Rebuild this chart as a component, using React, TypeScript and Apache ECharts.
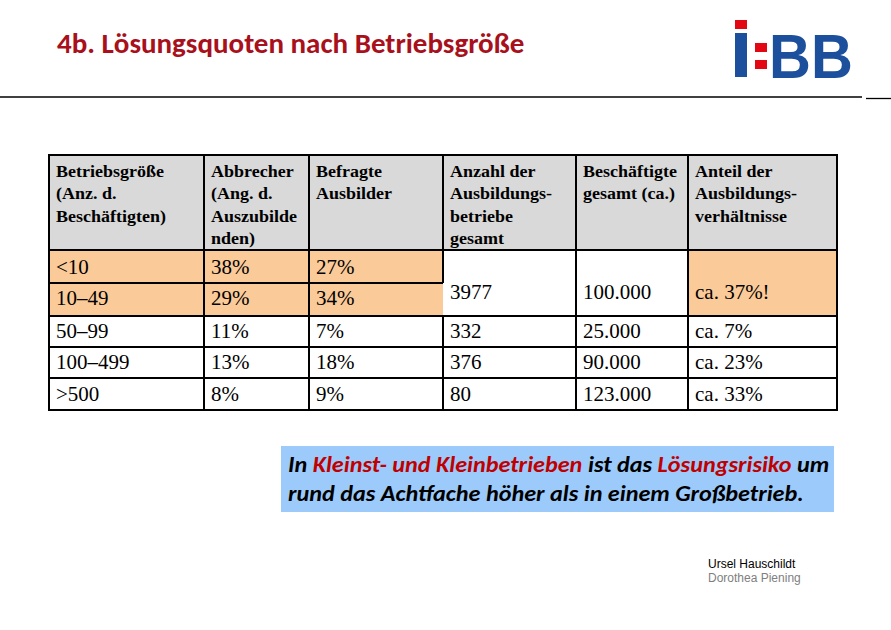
import React, { useEffect, useRef } from "react";
import * as echarts from "echarts";

const title = "4b. Lösungsquoten nach Betriebsgröße";
const headers = [
  "Betriebsgröße\n(Anz. d.\nBeschäftigten)",
  "Abbrecher\n(Ang. d.\nAuszubilde\nnden)",
  "Befragte\nAusbilder",
  "Anzahl der\nAusbildungs-\nbetriebe\ngesamt",
  "Beschäftigte\ngesamt (ca.)",
  "Anteil der\nAusbildungs-\nverhältnisse",
];
const sizes = ["<10", "10–49", "50–99", "100–499", ">500"];
const abbrecher = ["38%", "29%", "11%", "13%", "8%"];
const befragte = ["27%", "34%", "7%", "18%", "9%"];
// first entry covers the merged rows <10 and 10–49
const anzahl = ["3977", "332", "376", "80"];
const beschaeftigte = ["100.000", "25.000", "90.000", "123.000"];
const anteil = ["ca. 37%!", "ca. 7%", "ca. 23%", "ca. 33%"];
const noteParts: [string, boolean][] = [
  ["In ", false],
  ["Kleinst- und Kleinbetrieben", true],
  [" ist das ", false],
  ["Lösungsrisiko", true],
  [" um", false],
];
const noteLine2 = "rund das Achtfache höher als in einem Großbetrieb.";
const authors = ["Ursel Hauschildt", "Dorothea Piening"];

const colX = [49, 204, 309, 443, 576, 688, 837];
const rowY = [155, 250, 283, 316, 347, 378, 410];

export default function App() {
  const ref = useRef<HTMLDivElement>(null);
  useEffect(() => {
    if (!ref.current) return;
    const chart = echarts.init(ref.current, null, { renderer: "svg" });
    const els: any[] = [];
    const ORANGE = "#fbca99";
    const GRAY = "#d9d9d9";
    const serif = "'Liberation Serif', 'Times New Roman', serif";
    // title
    els.push({
      type: "text", x: 57, y: 43,
      style: { text: title, fill: "#a8101c", font: "bold 29px Carlito, 'Open Sans', sans-serif", textVerticalAlign: "middle" },
    });
    els.push({ type: "line", shape: { x1: 0, y1: 97, x2: 862, y2: 97 }, style: { stroke: "#000", lineWidth: 1.3 } });
    els.push({ type: "line", shape: { x1: 866, y1: 98.5, x2: 891, y2: 98.5 }, style: { stroke: "#000", lineWidth: 1.3 } });
    // logo
    const RED = "#e30613", BLUE = "#1c4f9c";
    els.push({ type: "rect", shape: { x: 735, y: 20, width: 12, height: 9 }, style: { fill: RED } });
    els.push({ type: "rect", shape: { x: 735, y: 33, width: 12, height: 44 }, style: { fill: BLUE } });
    els.push({ type: "rect", shape: { x: 755, y: 43, width: 12, height: 9 }, style: { fill: RED } });
    els.push({ type: "rect", shape: { x: 755, y: 60, width: 12, height: 9 }, style: { fill: RED } });
    els.push({
      type: "text", x: 769, y: 56, scaleY: 1.08,
      style: { text: "BB", fill: BLUE, font: "bold 58px 'Liberation Sans', Arial, sans-serif", textVerticalAlign: "middle" },
    });
    // fills
    els.push({ type: "rect", shape: { x: colX[0], y: rowY[0], width: colX[6] - colX[0], height: rowY[1] - rowY[0] }, style: { fill: GRAY } });
    els.push({ type: "rect", shape: { x: colX[0], y: rowY[1], width: colX[3] - colX[0], height: rowY[3] - rowY[1] }, style: { fill: ORANGE } });
    els.push({ type: "rect", shape: { x: colX[5], y: rowY[1], width: colX[6] - colX[5], height: rowY[3] - rowY[1] }, style: { fill: ORANGE } });
    // borders
    const ln = (x1: number, y1: number, x2: number, y2: number) =>
      els.push({ type: "line", shape: { x1, y1, x2, y2 }, style: { stroke: "#000", lineWidth: 2 } });
    rowY.forEach((y, i) => {
      if (i === 2) ln(colX[0], y, colX[3], y);
      else ln(colX[0] - 1, y, colX[6] + 1, y);
    });
    colX.forEach((x, i) => {
      if (i === 3) {
        ln(x, rowY[0], x, rowY[2]);
        ln(x, rowY[3], x, rowY[6]);
      } else ln(x, rowY[0], x, rowY[6]);
    });
    // header texts
    headers.forEach((h, c) => {
      els.push({
        type: "text", x: colX[c] + 7, y: 160, scaleX: 1.06,
        style: { text: h, fill: "#000", font: `bold 17px ${serif}`, lineHeight: 22.3, textVerticalAlign: "top" },
      });
    });
    const cell = (t: string, c: number, y: number) =>
      els.push({ type: "text", x: colX[c] + 7, y, scaleX: 1.05, style: { text: t, fill: "#000", font: `20px ${serif}`, textVerticalAlign: "middle" } });
    const rowCenters = [267, 298, 331, 362.5, 394];
    sizes.forEach((s, r) => {
      cell(s, 0, rowCenters[r]);
      cell(abbrecher[r], 1, rowCenters[r]);
      cell(befragte[r], 2, rowCenters[r]);
    });
    const rightCenters = [292, rowCenters[2], rowCenters[3], rowCenters[4]];
    anzahl.forEach((v, r) => {
      cell(v, 3, rightCenters[r]);
      cell(beschaeftigte[r], 4, rightCenters[r]);
      cell(anteil[r], 5, rightCenters[r]);
    });
    // note box
    els.push({ type: "rect", shape: { x: 281, y: 446, width: 553, height: 66 }, style: { fill: "#9ccbfb" } });
    let rich = "";
    noteParts.forEach(([t, red]) => { rich += `{${red ? "r" : "b"}|${t}}`; });
    const noteFont = "italic bold 22px Carlito, 'Open Sans', sans-serif";
    els.push({
      type: "text", x: 288, y: 464, scaleX: 1.1,
      style: {
        text: rich, textVerticalAlign: "middle",
        rich: { r: { fill: "#c00000", font: noteFont }, b: { fill: "#000", font: noteFont } },
      },
    });
    els.push({ type: "text", x: 288, y: 493, scaleX: 1.1, style: { text: noteLine2, fill: "#000", font: noteFont, textVerticalAlign: "middle" } });
    // authors
    els.push({ type: "text", x: 708, y: 564, style: { text: authors[0], fill: "#000", font: "12px 'Liberation Sans', Arial, sans-serif", textVerticalAlign: "middle" } });
    els.push({ type: "text", x: 708, y: 578, style: { text: authors[1], fill: "#808080", font: "12px 'Liberation Sans', Arial, sans-serif", textVerticalAlign: "middle" } });

    chart.setOption({ animation: false, backgroundColor: "#fff", graphic: { elements: els } });
    return () => chart.dispose();
  }, []);
  return <div ref={ref} style={{ position: "fixed", left: 0, top: 0, width: 891, height: 630 }} />;
}
